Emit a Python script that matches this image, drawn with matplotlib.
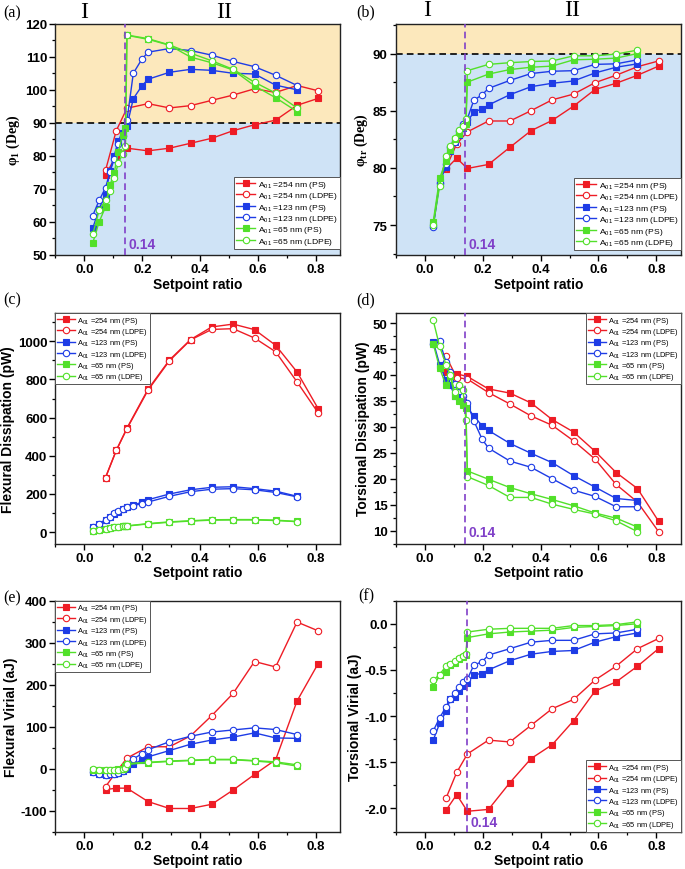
import matplotlib
matplotlib.use('Agg')
import matplotlib.pyplot as plt
from matplotlib.ticker import MultipleLocator

plt.rcParams['font.family'] = ['Liberation Sans', 'DejaVu Sans']
plt.rcParams['mathtext.default'] = 'regular'

# ---------------- data ----------------
x_254 = [0.073, 0.11, 0.147, 0.22, 0.294, 0.367, 0.44, 0.514, 0.588, 0.661, 0.735, 0.808]
x_123 = [0.029, 0.051, 0.073, 0.088, 0.103, 0.117, 0.132, 0.147, 0.169, 0.198, 0.22,
         0.294, 0.367, 0.44, 0.514, 0.588, 0.661, 0.735]
x_65 = [0.029, 0.051, 0.073, 0.088, 0.103, 0.117, 0.132, 0.142, 0.147, 0.22,
        0.294, 0.367, 0.44, 0.514, 0.588, 0.661, 0.735]

series_labels = ['A$_{01}$ =254 nm (PS)', 'A$_{01}$ =254 nm (LDPE)',
                 'A$_{01}$ =123 nm (PS)', 'A$_{01}$ =123 nm (LDPE)',
                 'A$_{01}$ =65 nm (PS)', 'A$_{01}$ =65 nm (LDPE)']

# (a) phi_1 (Deg)
phi1_254_ps = [74.2, 80.0, 82.3, 81.5, 82.3, 83.8, 85.3, 87.6, 89.4, 90.8, 95.3, 97.4]
phi1_254_ldpe = [75.6, 87.6, 94.4, 95.8, 94.5, 95.2, 96.8, 98.4, 100.3, 99.2, 101.3, 99.7]
phi1_123_ps = [58.1, 64.0, 68.2, 75.4, 80.0, 84.6, 87.0, 89.0, 97.3, 101.1, 103.2,
               105.3, 106.2, 105.9, 105.0, 104.8, 101.4, 100.0]
phi1_123_ldpe = [61.9, 66.5, 70.3, 75.0, 79.0, 83.5, 86.0, 90.7, 105.0, 109.2, 111.4,
                 112.5, 111.9, 110.5, 108.6, 107.0, 104.4, 101.3]
phi1_65_ps = [53.6, 60.0, 64.5, 71.0, 74.8, 81.2, 86.2, 88.3, 116.5, 115.3,
              113.5, 109.9, 108.2, 106.0, 101.2, 97.6, 93.4]
phi1_65_ldpe = [56.2, 63.5, 66.5, 69.2, 73.2, 77.8, 80.5, 83.0, 116.6, 115.5,
                113.6, 111.1, 108.8, 106.2, 102.3, 99.0, 94.5]

# (b) phi_tr (Deg)
phitr_254_ps = [79.9, 80.85, 79.95, 80.3, 81.8, 83.25, 84.15, 85.4, 86.85, 87.4, 88.1, 88.9]
phitr_254_ldpe = [80.0, 82.1, 83.15, 84.1, 84.1, 85.0, 85.95, 86.45, 87.45, 88.1, 88.85, 89.35]
phitr_123_ps = [75.0, 78.8, 80.1, 81.5, 82.3, 82.9, 83.5, 84.0, 84.9, 85.15, 85.5,
                86.4, 87.1, 87.4, 87.6, 88.3, 88.8, 89.1]
phitr_123_ldpe = [74.85, 78.7, 80.3, 81.8, 82.3, 83.2, 83.8, 84.3, 85.9, 86.4, 86.95,
                  87.65, 88.25, 88.45, 88.5, 89.05, 89.1, 89.45]
phitr_65_ps = [75.3, 79.1, 80.6, 81.6, 82.5, 83.0, 83.6, 83.8, 87.5, 88.2,
               88.6, 88.8, 88.9, 89.45, 89.5, 89.6, 90.0]
phitr_65_ldpe = [75.0, 78.4, 81.0, 81.9, 82.6, 83.3, 83.7, 84.3, 88.5, 89.05,
                 89.2, 89.3, 89.35, 89.8, 89.8, 89.95, 90.3]

# (c) Flexural dissipation (pW)
fdis_254_ps = [286, 428, 545, 749, 902, 1009, 1075, 1090, 1061, 979, 839, 647]
fdis_254_ldpe = [286, 428, 542, 744, 898, 1007, 1062, 1066, 1017, 945, 787, 625]
fdis_123_ps = [25, 45, 62, 80, 95, 108, 120, 130, 140, 158, 170,
               200, 222, 235, 238, 228, 215, 188]
fdis_123_ldpe = [28, 45, 65, 80, 98, 110, 122, 130, 138, 150, 158,
                 188, 212, 225, 228, 222, 208, 185]
fdis_65_ps = [5, 12, 18, 22, 26, 29, 31, 32, 33, 45, 54, 60, 65, 66, 66, 63, 56]
fdis_65_ldpe = [4, 10, 17, 21, 25, 28, 30, 31, 32, 43, 52, 58, 63, 64, 64, 61, 55]

# (d) Torsional dissipation (pW)
tdis_254_ps = [40.5, 40.2, 39.7, 37.3, 36.5, 34.6, 31.4, 29.0, 25.3, 21.2, 18.1, 11.8]
tdis_254_ldpe = [43.6, 39.5, 39.2, 36.6, 34.4, 32.1, 30.3, 27.3, 23.8, 18.9, 15.5, 9.8]
tdis_123_ps = [46.4, 42.0, 39.0, 38.0, 36.0, 35.8, 34.8, 33.7, 32.1, 30.2, 29.3,
               26.8, 24.9, 23.1, 20.6, 18.4, 16.2, 15.8]
tdis_123_ldpe = [46.0, 46.5, 42.5, 40.5, 38.3, 37.8, 36.0, 34.6, 31.2, 27.6, 25.9,
                 23.4, 22.2, 20.0, 17.8, 16.6, 14.6, 14.6]
tdis_65_ps = [46.0, 41.3, 38.0, 39.7, 36.0, 35.0, 34.2, 33.6, 21.5, 19.9,
              18.3, 17.1, 16.0, 14.8, 13.4, 12.4, 10.7]
tdis_65_ldpe = [50.5, 45.5, 42.0, 40.0, 36.8, 38.0, 37.0, 31.3, 20.4, 18.7,
                16.4, 16.4, 15.1, 14.1, 13.2, 11.9, 9.8]

# (e) Flexural virial (aJ)
fvir_254_ps = [-50, -46.6, -46.6, -78.5, -95, -95, -85, -51, -14, 21, 161, 250]
fvir_254_ldpe = [-43, -8, 25, 52, 52, 78, 126, 179, 255, 242, 349, 328]
fvir_123_ps = [-7, -12, -15, -14, -12, -10, -5, 0, 10, 21, 28,
               43, 58, 68, 75, 85, 73, 72]
fvir_123_ldpe = [-7, -12, -15, -14, -13, -10, -5, 10, 23, 35, 45,
                 64, 77, 87, 92, 97, 93, 81]
fvir_65_ps = [-3, -4, -4, -4, -3, -2, 0, 5, 10, 14, 17, 19, 21, 21, 18, 14, 6]
fvir_65_ldpe = [-2, -3, -4, -4, -3, -3, -2, 2, 12, 15, 18, 20, 22, 22, 19, 16, 9]

# (f) Torsional virial (aJ)
tvir_254_ps = [-2.02, -1.85, -2.03, -2.01, -1.72, -1.46, -1.31, -1.05, -0.73, -0.63, -0.46, -0.27]
tvir_254_ldpe = [-1.89, -1.61, -1.41, -1.26, -1.28, -1.10, -0.92, -0.82, -0.61, -0.46, -0.27, -0.16]
tvir_123_ps = [-1.26, -1.08, -0.95, -0.82, -0.79, -0.73, -0.67, -0.64, -0.55, -0.54, -0.50,
               -0.40, -0.33, -0.30, -0.29, -0.20, -0.14, -0.10]
tvir_123_ldpe = [-1.16, -1.02, -0.90, -0.81, -0.75, -0.68, -0.63, -0.60, -0.45, -0.41, -0.34,
                 -0.27, -0.20, -0.18, -0.18, -0.11, -0.10, -0.06]
tvir_65_ps = [-0.68, -0.56, -0.52, -0.45, -0.42, -0.38, -0.36, -0.34, -0.15, -0.11,
              -0.09, -0.08, -0.07, -0.04, -0.03, -0.02, 0.00]
tvir_65_ldpe = [-0.61, -0.55, -0.46, -0.44, -0.40, -0.37, -0.35, -0.33, -0.09, -0.06,
                -0.05, -0.05, -0.05, -0.02, -0.02, -0.01, 0.02]

# ---------------- style ----------------
RED = '#EE1C25'
BLUE = '#1E3CE6'
GREEN = '#52E02A'
PURPLE = '#8040C8'
ORANGE_BG = '#FCE8BC'
BLUE_BG = '#CFE3F6'

fig = plt.figure(figsize=(6.85, 8.7), dpi=100)

W, H = 0.416, 0.2655
lefts = [0.081, 0.578]
bottoms = [0.706, 0.374, 0.043]


def make_ax(col, row):
    return fig.add_axes([lefts[col], bottoms[row], W, H])


def draw_series(ax, data):
    xs = [x_254, x_254, x_123, x_123, x_65, x_65]
    cols = [RED, RED, BLUE, BLUE, GREEN, GREEN]
    for i, (x, y, c, lab) in enumerate(zip(xs, data, cols, series_labels)):
        filled = (i % 2 == 0)
        ax.plot(x, y, color=c, lw=1.0,
                marker='s' if filled else 'o',
                ms=4.0 if filled else 4.6,
                mfc=c if filled else 'white', mec=c, mew=0.8,
                label=lab, zorder=3)


def style_ax(ax, ylim, yticks, ylabels, yminor, ylabel, serif_label=False):
    ax.set_xlim(-0.1, 0.885)
    ax.set_ylim(*ylim)
    ax.set_xticks([0.0, 0.2, 0.4, 0.6, 0.8])
    ax.set_xticklabels(['0.0', '0.2', '0.4', '0.6', '0.8'], fontweight='bold', fontsize=9.5)
    ax.xaxis.set_minor_locator(MultipleLocator(0.1))
    ax.set_yticks(yticks)
    ax.set_yticklabels(ylabels, fontweight='bold', fontsize=9.5)
    ax.yaxis.set_minor_locator(MultipleLocator(yminor))
    ax.tick_params(which='major', direction='out', length=4, width=1.0, pad=2)
    ax.tick_params(which='minor', direction='out', length=2.2, width=0.9)
    for s in ax.spines.values():
        s.set_linewidth(1.0)
        s.set_color('#222222')
    ax.set_xlabel('Setpoint ratio', fontweight='bold', fontsize=10, labelpad=1)
    if serif_label:
        ax.set_ylabel(ylabel, fontweight='bold', fontsize=10,
                      family=['Liberation Serif', 'DejaVu Serif'], labelpad=2)
    else:
        ax.set_ylabel(ylabel, fontweight='bold', fontsize=10, labelpad=2)


def legend(ax, loc, anchor, fs):
    lg = ax.legend(loc=loc, bbox_to_anchor=anchor, fontsize=fs, frameon=True,
                   fancybox=False, edgecolor='#555555', framealpha=1,
                   borderpad=0.25, labelspacing=0.05, handlelength=2.3,
                   handletextpad=0.35, borderaxespad=0.0)
    lg.get_frame().set_linewidth(0.7)
    lg.set_zorder(5)


def vline(ax, xpos, ytxt):
    ax.axvline(xpos, color=PURPLE, lw=1.2, ls=(0, (4, 2.5)), zorder=4)
    ax.text(xpos + 0.012, ytxt, '0.14', color=PURPLE, fontweight='bold', fontsize=10,
            transform=ax.get_xaxis_transform(), ha='left', va='center', zorder=4)


def panel_label(txt, px, py):
    fig.text(px / 685, 1 - py / 870, txt, family=['Liberation Serif', 'DejaVu Serif'],
             fontsize=11.5, ha='center', va='center')


# (a)
ax = make_ax(0, 0)
ax.axhspan(90, 120, color=ORANGE_BG, zorder=0, lw=0)
ax.axhspan(50, 90, color=BLUE_BG, zorder=0, lw=0)
ax.axhline(90, color='black', lw=1.2, ls=(0, (4, 2.5)), zorder=2)
draw_series(ax, [phi1_254_ps, phi1_254_ldpe, phi1_123_ps, phi1_123_ldpe, phi1_65_ps, phi1_65_ldpe])
style_ax(ax, (50, 120), list(range(50, 121, 10)), [str(v) for v in range(50, 121, 10)], 5,
         'φ$_{1}$ (Deg)', serif_label=True)
vline(ax, 0.14, 0.045)
legend(ax, 'lower right', (1.0, 0.025), 6.1)
for xt, t in [(0.0, 'I'), (0.484, 'II')]:
    ax.text(xt, 1.055, t, transform=ax.get_xaxis_transform(), ha='center', va='center',
            family=['Liberation Serif', 'DejaVu Serif'], fontsize=17)
panel_label('(a)', 12, 13)

# (b)
ax = make_ax(1, 0)
ax.axhspan(90, 92.6, color=ORANGE_BG, zorder=0, lw=0)
ax.axhspan(72.4, 90, color=BLUE_BG, zorder=0, lw=0)
ax.axhline(90, color='black', lw=1.2, ls=(0, (4, 2.5)), zorder=2)
draw_series(ax, [phitr_254_ps, phitr_254_ldpe, phitr_123_ps, phitr_123_ldpe, phitr_65_ps, phitr_65_ldpe])
style_ax(ax, (72.4, 92.6), [75, 80, 85, 90], ['75', '80', '85', '90'], 2.5,
         'φ$_{tr}$ (Deg)', serif_label=True)
vline(ax, 0.14, 0.045)
legend(ax, 'lower right', (1.0, 0.02), 6.1)
for xt, t in [(0.008, 'I'), (0.51, 'II')]:
    ax.text(xt, 1.06, t, transform=ax.get_xaxis_transform(), ha='center', va='center',
            family=['Liberation Serif', 'DejaVu Serif'], fontsize=17)
panel_label('(b)', 366, 12)

# (c)
ax = make_ax(0, 1)
draw_series(ax, [fdis_254_ps, fdis_254_ldpe, fdis_123_ps, fdis_123_ldpe, fdis_65_ps, fdis_65_ldpe])
style_ax(ax, (-60, 1150), [0, 200, 400, 600, 800, 1000],
         ['0', '200', '400', '600', '800', '1000'], 100, 'Flexural Dissipation (pW)')
legend(ax, 'upper left', (0.0, 1.0), 5.4)
panel_label('(c)', 12, 300)

# (d)
ax = make_ax(1, 1)
draw_series(ax, [tdis_254_ps, tdis_254_ldpe, tdis_123_ps, tdis_123_ldpe, tdis_65_ps, tdis_65_ldpe])
style_ax(ax, (7.5, 52), list(range(10, 51, 5)), [str(v) for v in range(10, 51, 5)], 2.5,
         'Torsional Dissipation (pW)')
vline(ax, 0.14, 0.05)
legend(ax, 'upper right', (1.0, 1.0), 5.4)
panel_label('(d)', 366, 300)

# (e)
ax = make_ax(0, 2)
draw_series(ax, [fvir_254_ps, fvir_254_ldpe, fvir_123_ps, fvir_123_ldpe, fvir_65_ps, fvir_65_ldpe])
style_ax(ax, (-150, 400), [-100, 0, 100, 200, 300, 400],
         ['-100', '0', '100', '200', '300', '400'], 50, 'Flexural Virial (aJ)')
legend(ax, 'upper left', (0.0, 1.0), 5.4)
panel_label('(e)', 12, 598)

# (f)
ax = make_ax(1, 2)
draw_series(ax, [tvir_254_ps, tvir_254_ldpe, tvir_123_ps, tvir_123_ldpe, tvir_65_ps, tvir_65_ldpe])
style_ax(ax, (-2.25, 0.25), [-2.0, -1.5, -1.0, -0.5, 0.0],
         ['-2.0', '-1.5', '-1.0', '-0.5', '0.0'], 0.25, 'Torsional Virial (aJ)')
vline(ax, 0.147, 0.04)
legend(ax, 'lower right', (1.0, 0.0), 5.4)
panel_label('(f)', 366, 596)

fig.savefig('out.png', dpi=100)
